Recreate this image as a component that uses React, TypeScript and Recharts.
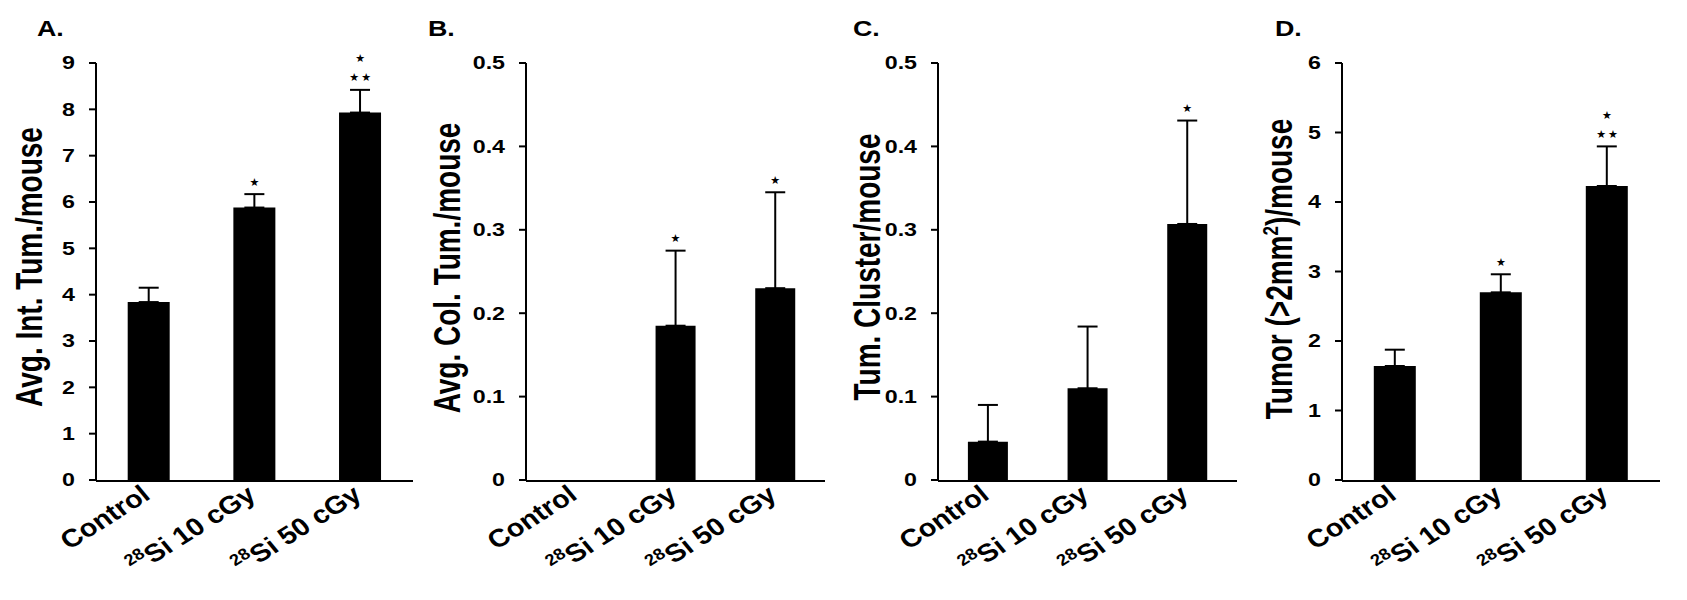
import React from 'react';
import { ComposedChart, Bar, Line, XAxis, YAxis, ErrorBar, LabelList } from 'recharts';

const FONT = '"Liberation Sans", Arial, sans-serif';
const STRETCH = 1.29; // the original figure is stretched sideways

const categories = ['Control', '28Si 10 cGy', '28Si 50 cGy'];

// A. average intestinal tumors per mouse
const intTumors = [3.84, 5.88, 7.93];
const intTumorsErr = [0.31, 0.29, 0.49];
const intTumorsStars = ['', '*', '*|**'];
const intTicks = [0, 1, 2, 3, 4, 5, 6, 7, 8, 9];

// B. average colon tumors per mouse
const colTumors = [0, 0.185, 0.23];
const colTumorsErr = [0, 0.09, 0.115];
const colTumorsStars = ['', '*', '*'];
const colTicks = [0, 0.1, 0.2, 0.3, 0.4, 0.5];

// C. tumor clusters per mouse
const clusters = [0.046, 0.11, 0.307];
const clustersErr = [0.044, 0.074, 0.124];
const clustersStars = ['', '', '*'];
const clusterTicks = [0, 0.1, 0.2, 0.3, 0.4, 0.5];

// D. tumors larger than 2 mm2 per mouse
const bigTumors = [1.64, 2.7, 4.23];
const bigTumorsErr = [0.235, 0.26, 0.57];
const bigTumorsStars = ['', '*', '*|**'];
const bigTicks = [0, 1, 2, 3, 4, 5, 6];

const edgeTicks = [0, 1, 2, 3];

const panels = [
  { letter: 'A.', letterX: 37, yLabel: 'Avg. Int. Tum./mouse', values: intTumors, errors: intTumorsErr, stars: intTumorsStars, ticks: intTicks, decimals: 0, axisX: 96, plotRight: 413, labelOffset: 54, labelY: 267 },
  { letter: 'B.', letterX: 428, yLabel: 'Avg. Col. Tum./mouse', values: colTumors, errors: colTumorsErr, stars: colTumorsStars, ticks: colTicks, decimals: 1, axisX: 526, plotRight: 825, labelOffset: 66, labelY: 268 },
  { letter: 'C.', letterX: 853, yLabel: 'Tum. Cluster/mouse', values: clusters, errors: clustersErr, stars: clustersStars, ticks: clusterTicks, decimals: 1, axisX: 938, plotRight: 1237, labelOffset: 58, labelY: 267 },
  { letter: 'D.', letterX: 1275, yLabel: 'Tumor (>2mm^2^)/mouse', values: bigTumors, errors: bigTumorsErr, stars: bigTumorsStars, ticks: bigTicks, decimals: 0, axisX: 1342, plotRight: 1660, labelOffset: 50, labelY: 269 },
];

const AXIS_W = 110;
const TOP = 63;
const BOTTOM = 480;
const H = 600;

const XTick = ({ x, y, payload }: any) => {
  const label: string = payload.value;
  const sup = label.startsWith('28') ? '28' : '';
  const rest = sup ? label.slice(2) : label;
  return (
    <g transform={`translate(${x + 3},${y + 18}) scale(1.15,1) rotate(-36)`}>
      <text textAnchor="end" fontSize={25} fontWeight="bold" fontFamily={FONT} fill="#000">
        {sup && <tspan fontSize={16} dy={-10}>{sup}</tspan>}
        <tspan dy={sup ? 10 : 0}>{rest}</tspan>
      </text>
    </g>
  );
};

const YTick = ({ x, y, payload, decimals }: any) => {
  const v: number = payload.value;
  const txt = v === 0 ? '0' : v.toFixed(decimals);
  return (
    <text transform={`translate(${x},${y}) scale(${STRETCH},1)`} textAnchor="end" dy="0.36em"
      fontSize={18} fontWeight="bold" fontFamily={FONT} fill="#000">
      {txt}
    </text>
  );
};

const renderStars = (props: any) => {
  const { x, y, value } = props;
  if (!value) return null;
  const lines = String(value).split('|').reverse();
  return (
    <g>
      {lines.map((s, i) => (
        <text key={i} x={x + 1} y={y - 12 - i * 19} textAnchor="middle" dominantBaseline="central"
          fontSize={11} fontFamily="DejaVu Sans" letterSpacing={2} fill="#000">
          {s.replace(/\*/g, '★')}
        </text>
      ))}
    </g>
  );
};

const Panel = ({ p }: any) => {
  const chartLeft = p.axisX - AXIS_W;
  const width = p.plotRight - chartLeft + 12;
  const data = categories.map((name, i) => ({
    name,
    value: p.values[i],
    err: [0, p.errors[i]],
    top: p.values[i] + p.errors[i],
    stars: p.stars[i],
  }));
  const parts: string[] = p.yLabel.split('^');

  const labels = () => (
    <g>
      <text transform={`translate(${p.letterX - chartLeft},36) scale(1.22,1)`} fontSize={22}
        fontWeight="bold" fontFamily={FONT} fill="#000">
        {p.letter}
      </text>
      <text transform={`translate(${AXIS_W - p.labelOffset},${p.labelY}) scale(${STRETCH},1) rotate(-90)`}
        textAnchor="middle" fontSize={28} fontWeight="bold" fontFamily={FONT} fill="#000">
        {parts.map((t, i) =>
          i % 2 === 1 ? (
            <tspan key={i} fontSize={17} dy={-11}>{t}</tspan>
          ) : (
            <tspan key={i} dy={i > 0 ? 11 : 0}>{t}</tspan>
          )
        )}
      </text>
    </g>
  );

  return (
    <div style={{ position: 'absolute', left: chartLeft, top: 0 }}>
      <ComposedChart width={width} height={H} data={data} barCategoryGap="30%"
        margin={{ top: TOP, right: 12, bottom: H - BOTTOM - 2, left: 0 }}>
        <XAxis xAxisId="edge" type="number" domain={[0, 3]} ticks={edgeTicks} allowDataOverflow
          height={1} tick={false} tickSize={7}
          axisLine={{ stroke: '#000', strokeWidth: 2 }} tickLine={{ stroke: '#000', strokeWidth: 2 }} />
        <XAxis xAxisId="cat" dataKey="name" height={1} axisLine={false} tickLine={false}
          tickSize={0} tickMargin={0} interval={0} tick={<XTick />} />
        <YAxis width={AXIS_W} domain={[p.ticks[0], p.ticks[p.ticks.length - 1]]} ticks={p.ticks}
          interval={0} tickSize={7} tickMargin={14}
          axisLine={{ stroke: '#000', strokeWidth: 2 }} tickLine={{ stroke: '#000', strokeWidth: 2 }}
          tick={(t: any) => <YTick {...t} decimals={p.decimals} />} label={labels} />
        <Bar xAxisId="cat" dataKey="value" fill="#000" isAnimationActive={false}>
          <ErrorBar dataKey="err" direction="y" width={10} strokeWidth={2} stroke="#000" />
        </Bar>
        <Line xAxisId="cat" dataKey="top" stroke="none" dot={false} activeDot={false}
          isAnimationActive={false}>
          <LabelList dataKey="stars" content={renderStars} />
        </Line>
      </ComposedChart>
    </div>
  );
}

export default function App() {
  return (
    <div style={{ position: 'absolute', left: 0, top: 0, width: 1687, height: H, background: '#fff' }}>
      {panels.map((p) => (
        <Panel key={p.letter} p={p} />
      ))}
    </div>
  );
}
